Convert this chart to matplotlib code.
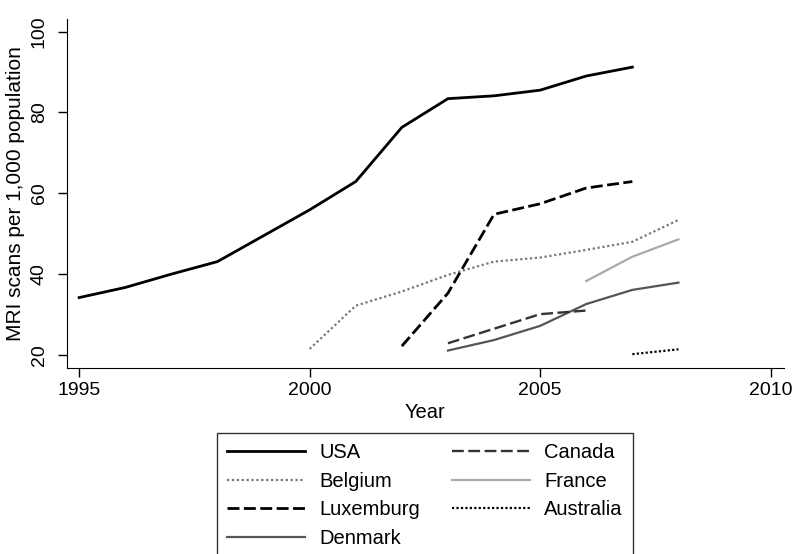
import matplotlib.pyplot as plt

plt.rcParams["font.family"] = ["Liberation Sans", "DejaVu Sans"]

usa_years = [1995, 1996, 1997, 1998, 1999, 2000, 2001, 2002, 2003, 2004, 2005, 2006, 2007]
usa = [34.2, 36.7, 40.0, 43.1, 49.5, 55.9, 62.9, 76.3, 83.4, 84.1, 85.5, 89.0, 91.2]

belgium_years = [2000, 2001, 2002, 2003, 2004, 2005, 2006, 2007, 2008]
belgium = [21.5, 32.2, 35.7, 39.8, 43.1, 44.1, 46.0, 48.0, 53.4]

luxemburg_years = [2002, 2003, 2004, 2005, 2006, 2007]
luxemburg = [22.2, 35.3, 54.8, 57.4, 61.3, 62.9]

denmark_years = [2003, 2004, 2005, 2006, 2007, 2008]
denmark = [21.1, 23.7, 27.2, 32.6, 36.1, 37.9]

canada_years = [2003, 2004, 2005, 2006]
canada = [22.9, 26.5, 30.1, 31.0]

france_years = [2006, 2007, 2008]
france = [38.3, 44.3, 48.6]

australia_years = [2007, 2008]
australia = [20.2, 21.4]

fig = plt.figure(figsize=(7.97, 5.54), dpi=100)
ax = fig.add_axes([0.0837, 0.3363, 0.9, 0.6294])

ax.plot(usa_years, usa, color="black", lw=2, label="USA")
ax.plot(belgium_years, belgium, color="#777777", lw=1.6, ls=(0, (1, 1.2)), label="Belgium")
ax.plot(luxemburg_years, luxemburg, color="black", lw=2, ls=(0, (4.3, 1.6)), label="Luxemburg")
ax.plot(denmark_years, denmark, color="#555555", lw=1.6, label="Denmark")
ax.plot(canada_years, canada, color="#333333", lw=1.7, ls=(0, (5, 1.9)), label="Canada")
ax.plot(france_years, france, color="#aaaaaa", lw=1.6, label="France")
ax.plot(australia_years, australia, color="black", lw=1.6, ls=(0, (1, 1)), label="Australia")

ax.set_xlim(1994.73, 2010.29)
ax.set_ylim(16.86, 103.1)
ax.set_xticks([1995, 2000, 2005, 2010])
ax.set_yticks([20, 40, 60, 80, 100])
ax.tick_params(labelsize=14, length=6.5, width=1)
ax.tick_params(axis="y", pad=7)
ax.tick_params(axis="x", pad=4)
for lab in ax.get_yticklabels():
    lab.set_rotation(90)
    lab.set_va("center")
ax.spines["top"].set_visible(False)
ax.spines["right"].set_visible(False)
ax.set_xlabel("Year", fontsize=14.5, labelpad=3)
ax.set_ylabel("MRI scans per 1,000 population", fontsize=15, labelpad=4)

leg = fig.legend(loc="upper center", bbox_to_anchor=(0.533, 0.2184), ncol=2,
                 fontsize=14.5, handlelength=3.9, handletextpad=0.7,
                 columnspacing=1.55, labelspacing=0.48, fancybox=False,
                 edgecolor="black", borderpad=0.5, borderaxespad=0)
leg.get_frame().set_linewidth(1)

fig.savefig("out.png", dpi=100)
